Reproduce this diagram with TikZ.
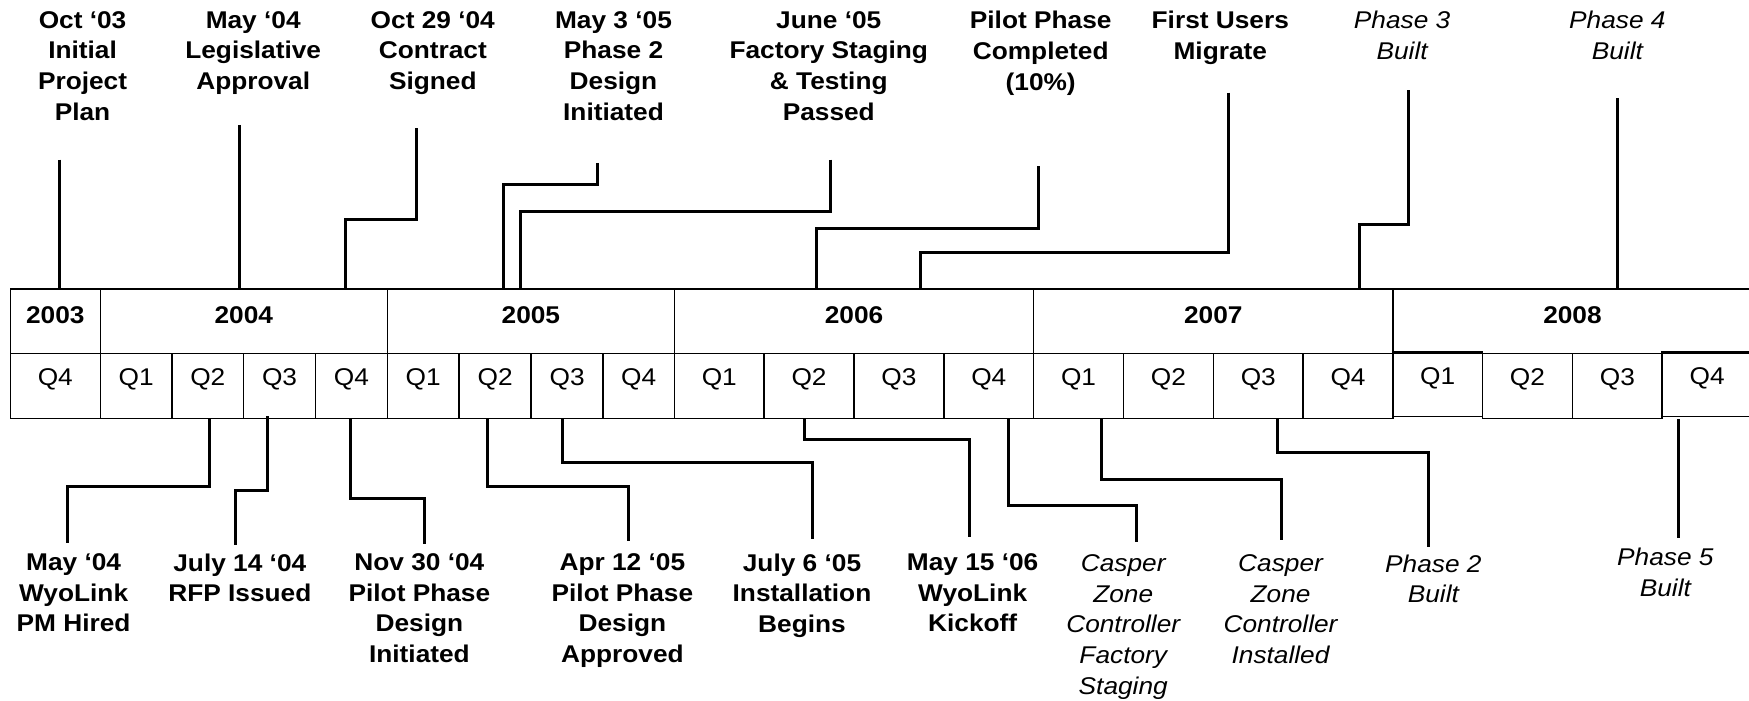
\documentclass[tikz,border=0pt]{standalone}
\usepackage{fontspec}
\setmainfont{Liberation Sans}
\newfontfamily\lab{Liberation Sans}[FakeStretch=1.085]
\begin{document}
\begin{tikzpicture}[x=1pt,y=-1pt,
  font=\lab\fontsize{21.7pt}{27.5pt}\selectfont,
  conn/.style={line width=2.7pt},
  cell/.style={draw, line width=1.35pt, minimum height=58pt, inner sep=0pt, outer sep=0pt, anchor=north west},
  yrtext/.style={yshift=5.5pt, font=\lab\fontsize{21.7pt}{27.5pt}\selectfont\bfseries},
  qtext/.style={yshift=5.5pt},
  lbl/.style={align=center, inner sep=0pt, anchor=north, font=\lab\fontsize{21.7pt}{27.5pt}\selectfont\bfseries},
  ilbl/.style={align=center, inner sep=0pt, anchor=north, font=\lab\fontsize{21.7pt}{27.5pt}\selectfont\itshape}]
\useasboundingbox (0,0) rectangle (1568,628);
\fill[white] (0,0) rectangle (1568,628);

% year row
\foreach \n/\a/\b/\t in {y0/9.3/89.9/2003, y1/89.9/347.2/2004, y2/347.2/604.7/2005, y3/604.7/926.6/2006, y4/926.6/1248.8/2007, y5/1248.8/1570.7/2008} {
  \pgfmathsetmacro\w{\b-\a}
  \node[cell, minimum width=\w pt, label={[yrtext]center:\t}] (\n) at (\a,259) {};
}
% quarter row
\foreach \n/\a/\b/\t/\dy in {q0/9.3/89.9/Q4/0, q1/89.9/154.4/Q1/0, q2/154.4/218.2/Q2/0, q3/218.2/283/Q3/0, q4/283/347.2/Q4/0,
  q5/347.2/411.7/Q1/0, q6/411.7/476.2/Q2/0, q7/476.2/540.6/Q3/0, q8/540.6/604.7/Q4/0,
  q9/604.7/685/Q1/0, q10/685/765.6/Q2/0, q11/765.6/846.3/Q3/0, q12/846.3/926.6/Q4/0,
  q13/926.6/1007.2/Q1/0, q14/1007.2/1087.8/Q2/0, q15/1087.8/1168.3/Q3/0, q16/1168.3/1248.8/Q4/0,
  q17/1248.8/1329/Q1/-1.5, q18/1329/1409.7/Q2/0, q19/1409.7/1490.2/Q3/0, q20/1490.2/1570.7/Q4/-1.5} {
  \pgfmathsetmacro\w{\b-\a}
  \node[cell, minimum width=\w pt, label={[qtext]center:\t}] (\n) at (\a,317+\dy) {};
}

% top labels
\node[lbl] (t1) at (74,10) {Oct ‘03\\Initial\\Project\\Plan};
\node[lbl] (t2) at (227,10) {May ‘04\\Legislative\\Approval};
\node[lbl] (t3) at (388,10) {Oct 29 ‘04\\Contract\\Signed};
\node[lbl] (t4) at (550,10) {May 3 ‘05\\Phase 2\\Design\\Initiated};
\node[lbl] (t5) at (743,10) {June ‘05\\Factory Staging\\\& Testing\\Passed};
\node[lbl] (t6) at (933,10) {Pilot Phase\\Completed\\(10\%)};
\node[lbl] (t7) at (1094,10) {First Users\\Migrate};
\node[ilbl] (t8) at (1257,10) {Phase 3\\Built};
\node[ilbl] (t9) at (1450,10) {Phase 4\\Built};

% bottom labels
\node[lbl] (b1) at (66,496) {May ‘04\\WyoLink\\PM Hired};
\node[lbl] (b2) at (215,496) {July 14 ‘04\\RFP Issued};
\node[lbl] (b3) at (376,496) {Nov 30 ‘04\\Pilot Phase\\Design\\Initiated};
\node[lbl] (b4) at (558,496) {Apr 12 ‘05\\Pilot Phase\\Design\\Approved};
\node[lbl] (b5) at (719,496) {July 6 ‘05\\Installation\\Begins};
\node[lbl] (b6) at (872,496) {May 15 ‘06\\WyoLink\\Kickoff};
\node[ilbl] (b7) at (1007,497) {Casper\\Zone\\Controller\\Factory\\Staging};
\node[ilbl] (b8) at (1148,497) {Casper\\Zone\\Controller\\Installed};
\node[ilbl] (b9) at (1285,497) {Phase 2\\Built};
\node[ilbl] (b10) at (1493,491) {Phase 5\\Built};

% top connectors
\coordinate (c1s) at (53,143);   \coordinate (c1e) at (53,259);
\coordinate (c2s) at (215,112);  \coordinate (c2e) at (215,259);
\coordinate (c3s) at (373,115);  \coordinate (c3h) at (309.5,197);  \coordinate (c3e) at (309.5,259);
\coordinate (c4s) at (535.5,146);\coordinate (c4h) at (451.5,165);  \coordinate (c4e) at (451.5,259);
\coordinate (c5s) at (744.7,143);\coordinate (c5h) at (466.7,190);  \coordinate (c5e) at (466.7,259);
\coordinate (c6s) at (931,149);  \coordinate (c6h) at (732,205);    \coordinate (c6e) at (732,259);
\coordinate (c7s) at (1101,83);  \coordinate (c7h) at (825,226);    \coordinate (c7e) at (825,259);
\coordinate (c8s) at (1263,81);  \coordinate (c8h) at (1218.5,201); \coordinate (c8e) at (1218.5,259);
\coordinate (c9s) at (1450,88);  \coordinate (c9e) at (1450,259);
\draw[conn] (c1s) -- (c1e);
\draw[conn] (c2s) -- (c2e);
\foreach \i in {3,...,8} {\draw[conn] (c\i s) |- (c\i h) -- (c\i e);}
\draw[conn] (c9s) -- (c9e);

% bottom connectors
\coordinate (d1s) at (188,375);   \coordinate (d1h) at (60.4,436);   \coordinate (d1e) at (60.4,487);
\coordinate (d2s) at (240,373);   \coordinate (d2h) at (211.3,440);  \coordinate (d2e) at (211.3,489);
\coordinate (d3s) at (314.3,375); \coordinate (d3h) at (380.9,447);  \coordinate (d3e) at (380.9,488);
\coordinate (d4s) at (436.8,375); \coordinate (d4h) at (563.6,436);  \coordinate (d4e) at (563.6,485);
\coordinate (d5s) at (504.4,375); \coordinate (d5h) at (728.6,415);  \coordinate (d5e) at (728.6,483);
\coordinate (d6s) at (721,375);   \coordinate (d6h) at (869,394);    \coordinate (d6e) at (869,481);
\coordinate (d7s) at (904,375);   \coordinate (d7h) at (1019,453);   \coordinate (d7e) at (1019,486);
\coordinate (d8s) at (987.6,375); \coordinate (d8h) at (1148.5,430); \coordinate (d8e) at (1148.5,484);
\coordinate (d9s) at (1145,375);  \coordinate (d9h) at (1281,406);   \coordinate (d9e) at (1281,490);
\coordinate (d10s) at (1505,376); \coordinate (d10e) at (1505,482);
\foreach \i in {1,...,9} {\draw[conn] (d\i s) |- (d\i h) -- (d\i e);}
\draw[conn] (d10s) -- (d10e);
\end{tikzpicture}
\end{document}
